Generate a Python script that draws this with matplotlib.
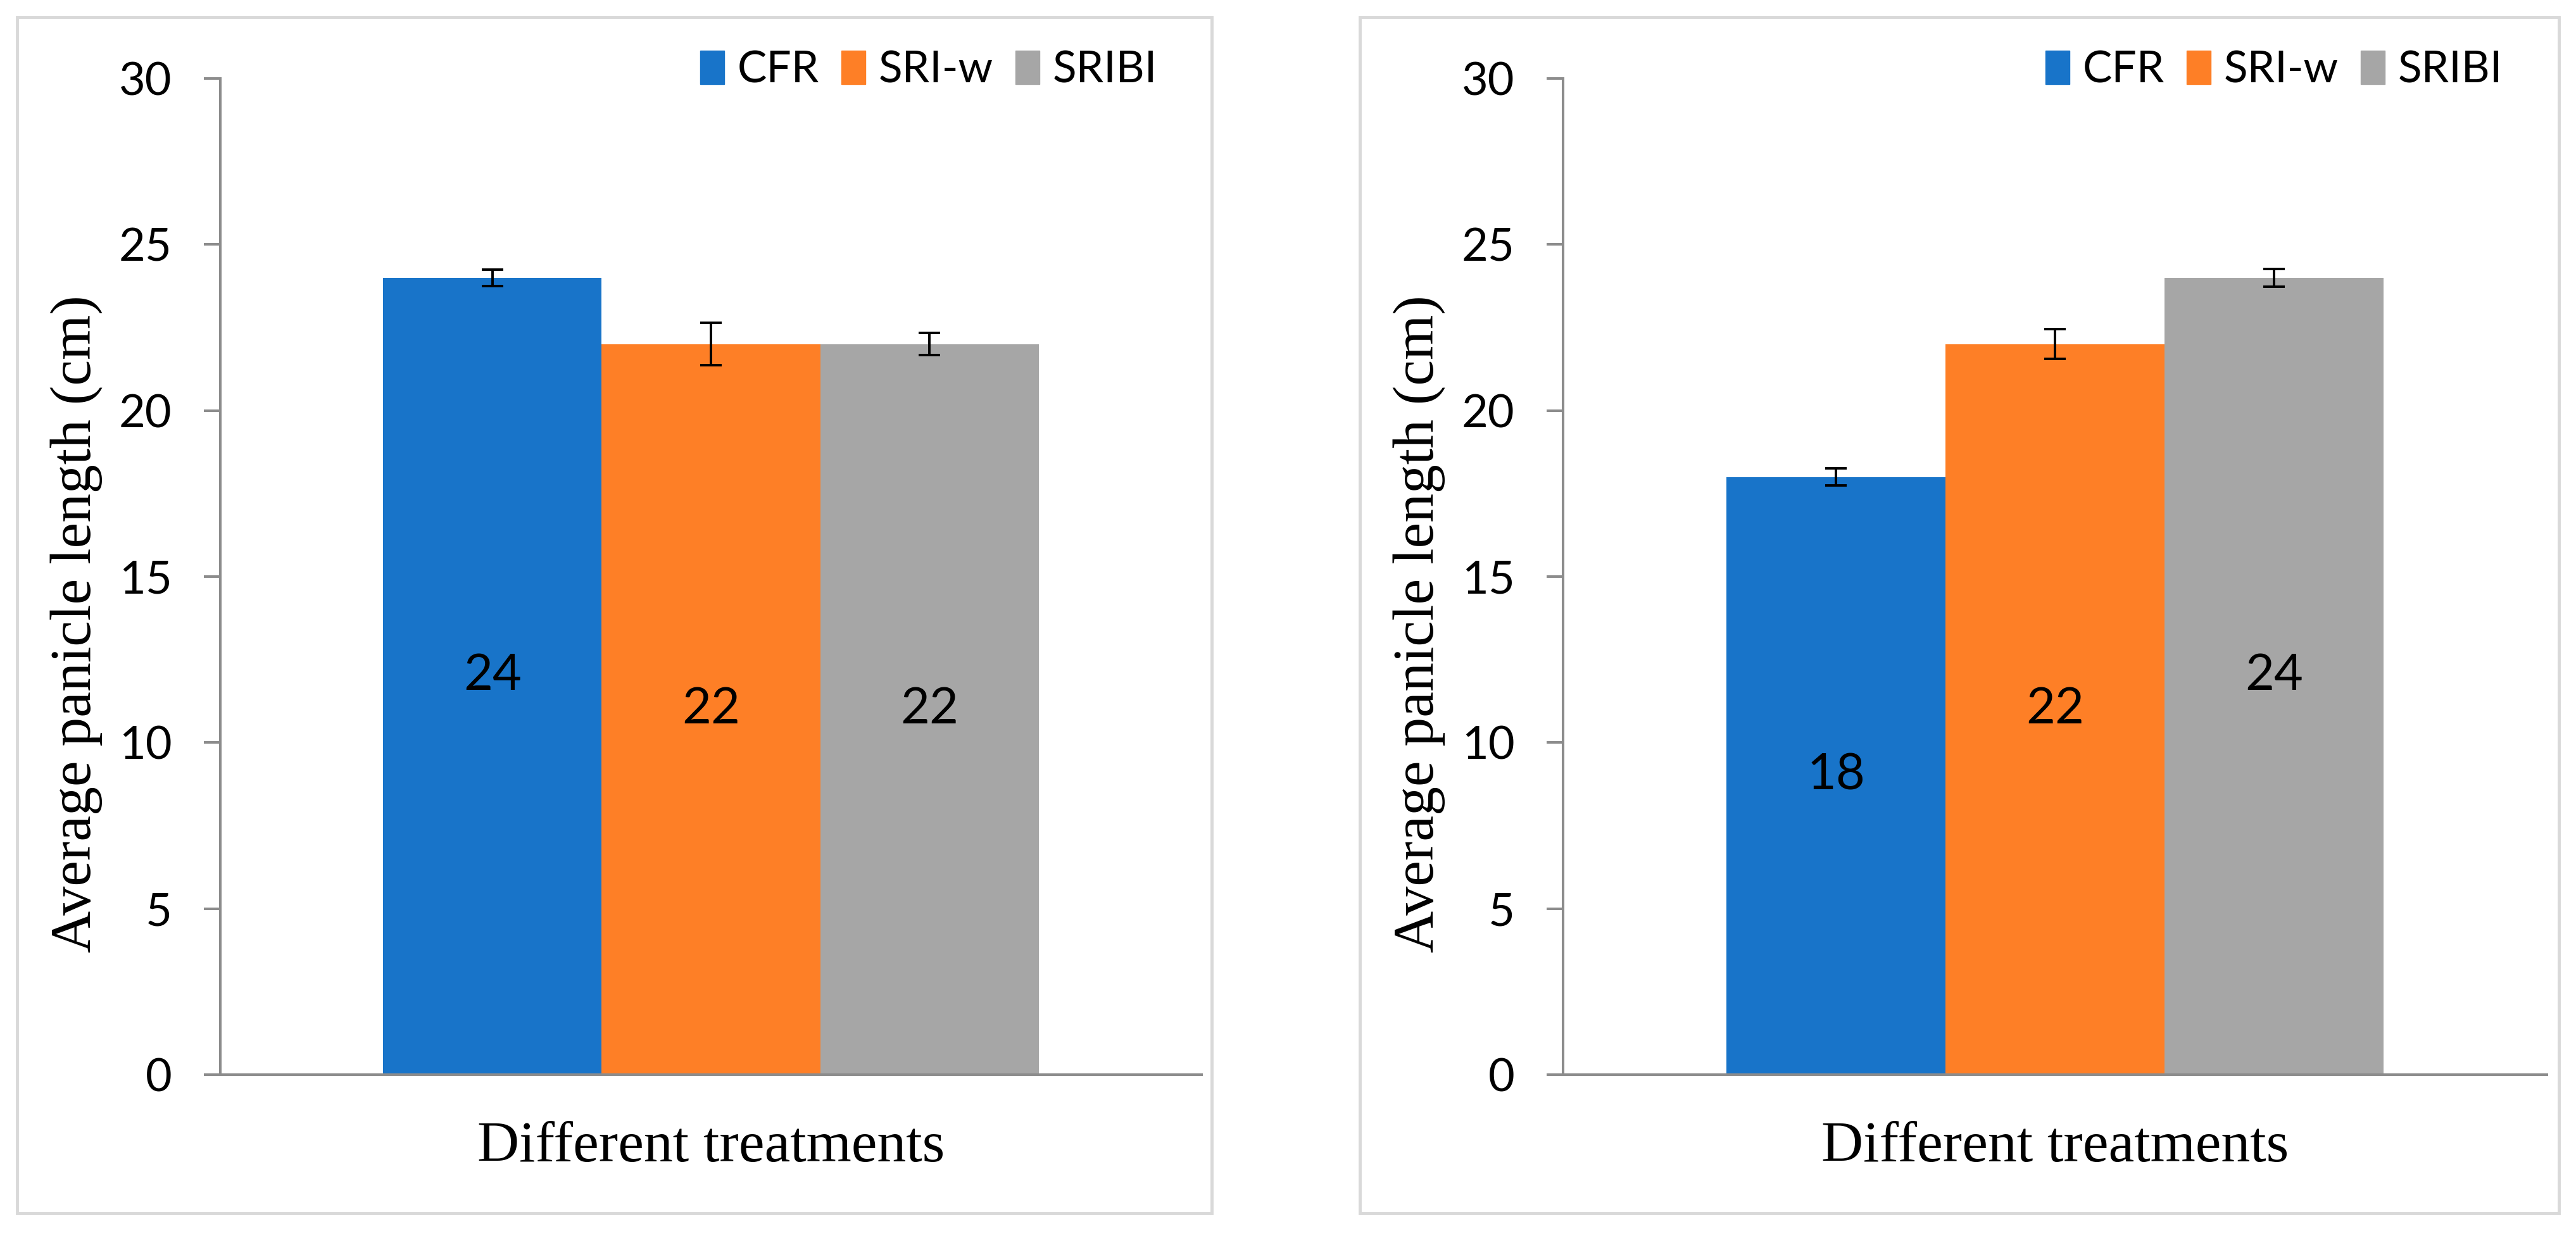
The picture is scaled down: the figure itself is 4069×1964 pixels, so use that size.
import matplotlib
matplotlib.use('Agg')
import matplotlib.pyplot as plt
from matplotlib.patches import Rectangle
import numpy as np

treatments = ['CFR', 'SRI-w', 'SRIBI']
colors = ['#1874c9', '#fe7f26', '#a6a6a6']

# panel 1 and panel 2 values (cm) with error bars
left_vals = [24, 22, 22]
left_err = [0.25, 0.64, 0.33]
right_vals = [18, 22, 24]
right_err = [0.26, 0.45, 0.27]

yticks = [0, 5, 10, 15, 20, 25, 30]
ylabel = 'Average panicle length (cm)'
xlabel = 'Different treatments'

W, H = 4069, 1964
fig = plt.figure(figsize=(W / 100, H / 100), dpi=100)

sans = 'Lato'
serif = 'Liberation Serif'
axis_col = '#8c8c8c'


def draw_panel(ax, vals, errs, border_x0, border_w):
    w = 0.2226
    xs = np.array([-w, 0, w])
    ax.bar(xs, vals, width=w, color=colors, zorder=2)
    ax.errorbar(xs, vals, yerr=errs, fmt='none', ecolor='black',
                elinewidth=2.8, capsize=12, capthick=2.8, zorder=3)
    for x, v in zip(xs, vals):
        ax.text(x, v / 2, str(v), ha='center', va='center',
                fontsize=57, family=sans, zorder=4)
    # legend handles
    handles = [Rectangle((0, 0), 1, 1, color=c) for c in colors]
    ax.legend(handles, treatments, loc='center right',
              bbox_to_anchor=(0.955, 1.008), ncol=3, frameon=False,
              prop={'family': sans, 'size': 50}, handlelength=0.55,
              handleheight=0.8, handletextpad=0.3, columnspacing=0.5,
              borderpad=0, borderaxespad=0)
    ax.set_xlim(-0.5, 0.5)
    ax.set_ylim(0, 30)
    ax.set_yticks(yticks)
    ax.set_xticks([])
    for s in ['top', 'right']:
        ax.spines[s].set_visible(False)
    for s in ['left', 'bottom']:
        ax.spines[s].set_color(axis_col)
        ax.spines[s].set_linewidth(2.9)
    ax.tick_params(axis='y', direction='out', length=19, width=2.9,
                   color=axis_col, pad=36, labelsize=52)
    for lab in ax.get_yticklabels():
        lab.set_family(sans)
    # axis titles
    pos = ax.get_position()
    fig.text(pos.x0 + pos.width / 2, 1 - 1835 / H, xlabel, ha='center',
             va='baseline', fontsize=66, family=serif)
    fig.text((border_x0 + 94) / W, 1 - 986 / H, ylabel,
             rotation=90, ha='center', va='center', fontsize=66, family=serif)
    # light grey frame around each chart
    fig.patches.append(Rectangle((border_x0 / W, 1 - 1917 / H), border_w / W,
                                 (1917 - 27) / H, transform=fig.transFigure,
                                 fill=False, edgecolor='#d9d9d9',
                                 linewidth=3.5))


ax_bottom = 1 - 1698 / H
ax_height = (1698 - 124) / H
ax1 = fig.add_axes([348 / W, ax_bottom, 1550 / W, ax_height])
ax2 = fig.add_axes([2469 / W, ax_bottom, 1554 / W, ax_height])

draw_panel(ax1, left_vals, left_err, 27, 1914 - 27)
draw_panel(ax2, right_vals, right_err, 2148, 4042 - 2148)

fig.savefig('out.png', dpi=100, facecolor='white')
